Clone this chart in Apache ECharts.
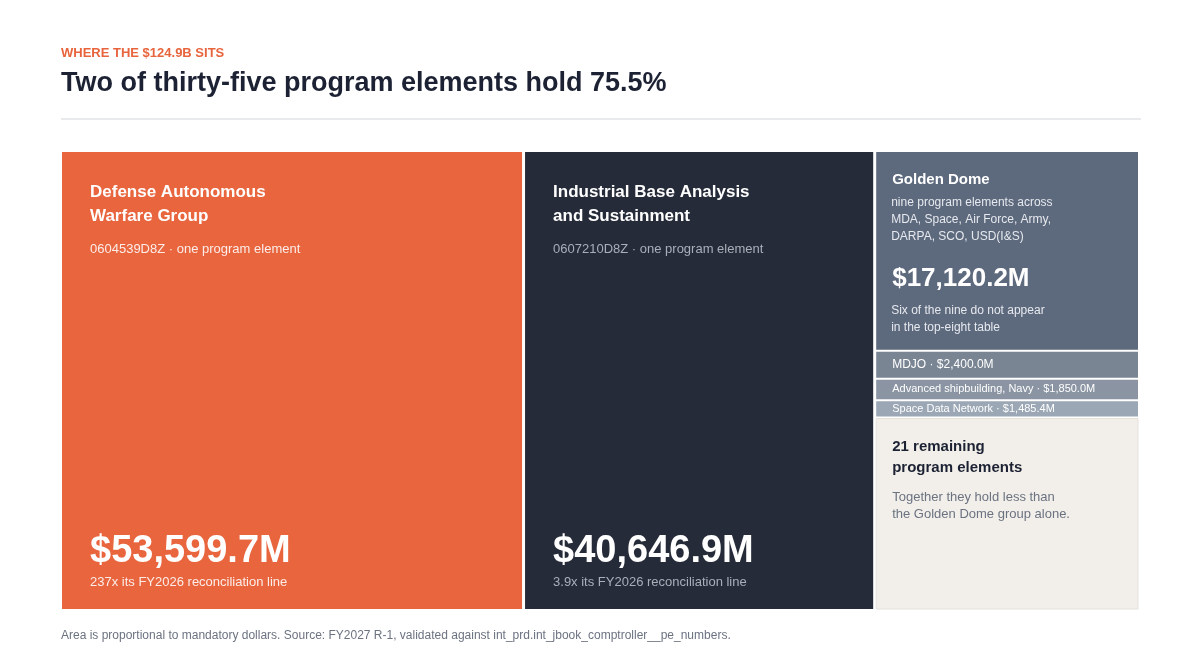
<!DOCTYPE html>
<html><head><meta charset="utf-8">
<script src="https://cdn.jsdelivr.net/npm/echarts@6/dist/echarts.min.js"></script>
<style>html,body{margin:0;padding:0;background:#fff}#c{width:1201px;height:661px}</style>
</head><body><div id="c"></div>
<script>
// main columns (mandatory $M)
var mainNames = ['Defense Autonomous\nWarfare Group', 'Industrial Base Analysis\nand Sustainment'];
var mainCodes = ['0604539D8Z · one program element', '0607210D8Z · one program element'];
var mainValues = [53599.7, 40646.9];
var mainNotes = ['237x its FY2026 reconciliation line', '3.9x its FY2026 reconciliation line'];
var total = 124900;
// right column, stacked top to bottom
var sideNames = ['Golden Dome', 'MDJO', 'Advanced shipbuilding, Navy', 'Space Data Network', '21 remaining\nprogram elements'];
var sideValues = [17120.2, 2400.0, 1850.0, 1485.4, 16500]; // last one read from its drawn area
var font = '"Liberation Sans", Arial, sans-serif';

var sideTotal = sideValues.reduce(function (a, b) { return a + b; }, 0);
var fmt = function (v) { return '$' + v.toLocaleString('en-US', {minimumFractionDigits: 1, maximumFractionDigits: 1}) + 'M'; };

var cells = [];
var x = 0;
mainValues.forEach(function (v, i) { cells.push([x, x + v, 0, sideTotal, 'main', i]); x += v; });
var y = sideTotal;
sideValues.forEach(function (v, i) { cells.push([x, total, y - v, y, 'side', i]); y -= v; });

var sideColors = ['#5d697d', '#7a8594', '#8a94a2', '#9ba7b5', '#f2efea'];
var mainColors = ['#e8653e', '#252b38'];

function txt(x, y, s, size, color, bold, lh) {
  return {type: 'text', style: {x: x, y: y, text: s, fill: color, font: (bold ? 'bold ' : '') + size + 'px ' + font,
    lineHeight: lh || size * 1.3, textVerticalAlign: 'top'}};
}

function renderItem(params, api) {
  var d = cells[params.dataIndex];
  var p0 = api.coord([d[0], d[3]]), p1 = api.coord([d[1], d[2]]);
  var l = p0[0] + 1, t = p0[1] + 1, w = p1[0] - p0[0] - 3, h = p1[1] - p0[1] - 2;
  var b = t + h, i = d[5], ch = [];
  var fill = d[4] === 'main' ? mainColors[i] : sideColors[i];
  ch.push({type: 'rect', shape: {x: l, y: t, width: w, height: h},
    style: {fill: fill, stroke: i === 4 && d[4] === 'side' ? '#e4e1dc' : null, lineWidth: 1}});
  if (d[4] === 'main') {
    var sub = i === 0 ? 'rgba(255,255,255,0.88)' : '#a9afba';
    ch.push(txt(l + 28, t + 28, mainNames[i], 17, '#fff', true, 24));
    ch.push(txt(l + 28, t + 89, mainCodes[i], 13, sub));
    ch.push(txt(l + 28, b - 82, fmt(mainValues[i]), 38, '#fff', true));
    ch.push(txt(l + 28, b - 35, mainNotes[i], 13, sub));
  } else if (i === 0) {
    ch.push(txt(l + 16, t + 18, sideNames[0], 15, '#fff', true));
    ch.push(txt(l + 15, t + 42, 'nine program elements across\nMDA, Space, Air Force, Army,\nDARPA, SCO, USD(I&S)', 12, '#e6e9ee', false, 17));
    ch.push(txt(l + 16, t + 110, fmt(sideValues[0]), 26, '#fff', true));
    ch.push(txt(l + 15, t + 150, 'Six of the nine do not appear\nin the top-eight table', 12, '#e6e9ee', false, 17));
  } else if (i < 4) {
    var fs = i === 1 ? 12 : 11;
    ch.push({type: 'text', style: {x: l + 16, y: t + h / 2, text: sideNames[i] + ' · ' + fmt(sideValues[i]), fill: '#fff',
      font: fs + 'px ' + font, textVerticalAlign: 'middle'}});
  } else {
    ch.push(txt(l + 16, t + 18, sideNames[4], 15, '#1c2233', true, 21));
    ch.push(txt(l + 16, t + 70, 'Together they hold less than\nthe Golden Dome group alone.', 13, '#6b7280', false, 17));
  }
  return {type: 'group', children: ch};
}

var chart = echarts.init(document.getElementById('c'));
chart.setOption({
  animation: false,
  grid: {left: 61, right: 61, top: 151, bottom: 51},
  xAxis: {type: 'value', min: 0, max: total, show: false},
  yAxis: {type: 'value', min: 0, max: sideTotal, show: false},
  series: [{type: 'custom', renderItem: renderItem, data: cells.map(function (c) { return c.slice(0, 4); })}],
  graphic: [
    {type: 'text', left: 61, top: 47, style: {text: 'WHERE THE $124.9B SITS', fill: '#e8643c', font: 'bold 13px ' + font}},
    {type: 'text', left: 61, top: 70, style: {text: 'Two of thirty-five program elements hold 75.5%', fill: '#1c2233', font: 'bold 27px ' + font}},
    {type: 'rect', shape: {x: 61, y: 118, width: 1080, height: 2}, style: {fill: '#e8eaee'}},
    {type: 'text', left: 61, top: 630, style: {text: 'Area is proportional to mandatory dollars. Source: FY2027 R-1, validated against int_prd.int_jbook_comptroller__pe_numbers.', fill: '#6b7280', font: '12px ' + font}}
  ]
});
</script></body></html>
